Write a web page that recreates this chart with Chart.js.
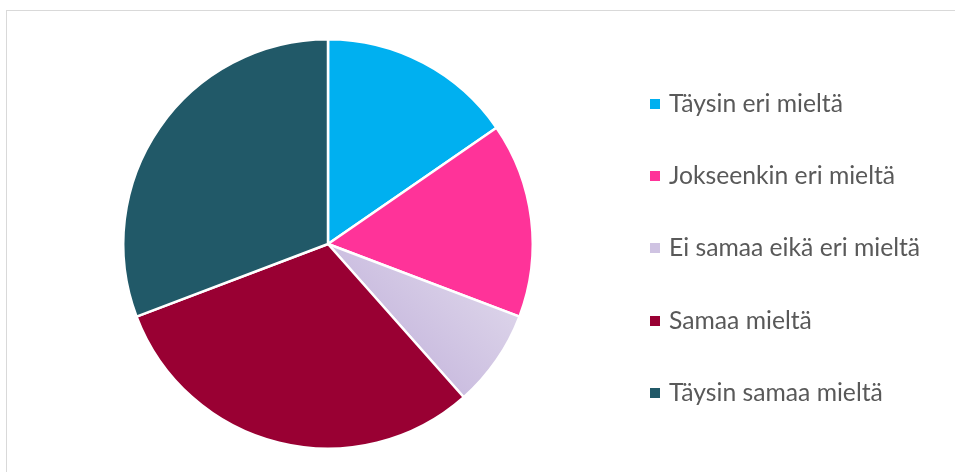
<!DOCTYPE html>
<html>
<head>
<meta charset="utf-8">
<script src="https://cdn.jsdelivr.net/npm/chart.js@4.4.1/dist/chart.umd.min.js"></script>
<style>
  html, body { margin: 0; padding: 0; background: #fff; }
  body { width: 955px; height: 472px; position: relative; overflow: hidden; }
  .frame {
    position: absolute; left: 6px; top: 10px; width: 1000px; height: 500px;
    border: 1px solid #d9d9d9; box-sizing: border-box;
  }
  .pie-box { position: absolute; left: 0; top: 0; width: 656px; height: 472px; }
  #legend {
    position: absolute; left: 650px; top: 0; margin: 0; padding: 0; list-style: none;
    font-family: "Lato", sans-serif; font-size: 24.7px; line-height: 30px; color: #595959;
  }
  #legend li { position: absolute; white-space: nowrap; display: flex; align-items: center; height: 30px; }
  #legend span.box { display: inline-block; width: 10px; height: 10px; margin-right: 9px; margin-top: 2px; }
</style>
</head>
<body>
<div class="frame"></div>
<div class="pie-box"><canvas id="myChart"></canvas></div>
<ul id="legend"></ul>

<script>
// ----------------------------------------------------------------------DATA
const answers = [
  "Täysin eri mieltä",
  "Jokseenkin eri mieltä",
  "Ei samaa eikä eri mieltä",
  "Samaa mieltä",
  "Täysin samaa mieltä",
];
const counts = [2, 2, 1, 4, 4];
const colors = ["#00b0f0", "#ff3399", "#cfc3e2", "#990033", "#215968"];

// -----------------------------------------------------------------------DOM ELEMENTS
const graph = document.querySelector("#myChart");
const legendList = document.querySelector("#legend");

// lavender slice gets a soft diagonal gradient
const sliceColor = (ctx) => {
  const i = ctx.dataIndex;
  const area = ctx.chart.chartArea;
  if (i !== 2 || !area) return colors[i];
  const cx = (area.left + area.right) / 2;
  const cy = (area.top + area.bottom) / 2;
  const r = Math.min(area.width, area.height) / 2;
  const g = ctx.chart.ctx.createLinearGradient(cx + r * 0.35, cy + r * 0.8, cx + r * 0.9, cy + r * 0.25);
  g.addColorStop(0, "#c2b2db");
  g.addColorStop(1, "#ddd5ea");
  return g;
};

const myChart = new Chart(graph, {
  type: "pie",
  data: {
    labels: answers,
    datasets: [
      {
        data: counts,
        backgroundColor: sliceColor,
        borderColor: "#ffffff",
        borderWidth: 2.5,
        hoverOffset: 0,
      },
    ],
  },
  options: {
    responsive: true,
    maintainAspectRatio: false,
    animation: false,
    layout: { padding: { top: 38, bottom: 22, left: 0, right: 0 } },
    plugins: {
      legend: { display: false },
      tooltip: { enabled: false },
    },
  },
});

// -----------------------------------------------------------------------LEGEND
const legendTop = 103;
const legendStep = 72.2;
answers.forEach((label, i) => {
  const li = document.createElement("li");
  li.innerHTML = `<span class="box" style="background:${colors[i]}"></span>${label}`;
  li.style.top = legendTop + i * legendStep - 15 + "px";
  legendList.appendChild(li);
});
</script>
</body>
</html>
